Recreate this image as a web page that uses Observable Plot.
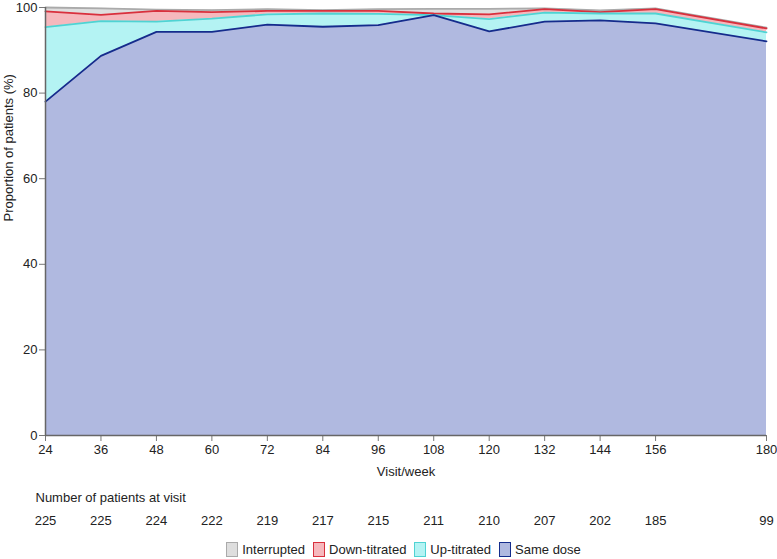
<!DOCTYPE html>
<html>
<head>
<meta charset="utf-8">
<script src="https://cdn.jsdelivr.net/npm/d3@7"></script>
<script src="https://cdn.jsdelivr.net/npm/@observablehq/plot@0.6"></script>
<style>
  html, body { margin: 0; padding: 0; background: #fff; }
  body { width: 777px; height: 559px; position: relative; font-family: "Liberation Sans", Arial, sans-serif; }
  #legend { position: absolute; left: 0; top: 539px; width: 777px; height: 21px; display: flex; justify-content: center; align-items: center; font-size: 13px; color: #222; padding-left: 30px; box-sizing: border-box; }
  .item { display: flex; align-items: center; margin: 0 4px; }
  .sw { width: 12px; height: 15px; border: 1.5px solid; margin-right: 4px; box-sizing: border-box; }
</style>
</head>
<body>
<div id="chart"></div>
<div id="legend"></div>
<script>
const weeks = [24, 36, 48, 60, 72, 84, 96, 108, 120, 132, 144, 156, 180];
const patients = [225, 225, 224, 222, 219, 217, 215, 211, 210, 207, 202, 185, 99];
const sameDose =     [78.0, 88.7, 94.3, 94.3, 96.0, 95.5, 95.9, 98.2, 94.4, 96.7, 97.0, 96.3, 92.1];
const upTitrated =   [17.4, 8.1, 2.4, 3.1, 2.4, 3.1, 2.6, 0.0, 2.9, 2.1, 1.6, 2.3, 2.1];
const downTitrated = [3.7, 1.5, 2.5, 1.5, 0.8, 0.6, 0.7, 0.4, 1.1, 0.8, 0.3, 1.0, 0.9];
const interrupted =  [0.9, 1.5, 0.3, 0.5, 0.4, 0.2, 0.4, 1.1, 1.3, 0.2, 0.4, 0.2, 0.2];
const categories = ["Interrupted", "Down-titrated", "Up-titrated", "Same dose"];
const yTicks = [0, 20, 40, 60, 80, 100];

const series = {"Interrupted": interrupted, "Down-titrated": downTitrated, "Up-titrated": upTitrated, "Same dose": sameDose};
const fillColors = {"Interrupted": "#dedede", "Down-titrated": "#f6b8bd", "Up-titrated": "#b4f3f3", "Same dose": "#b0b9e0"};
const lineColors = {"Interrupted": "#aaaaaa", "Down-titrated": "#d8303d", "Up-titrated": "#4fd3d3", "Same dose": "#142c8c"};
const stackOrder = ["Same dose", "Up-titrated", "Down-titrated", "Interrupted"];

const rows = [];
for (const c of categories) weeks.forEach((w, i) => rows.push({week: w, category: c, value: series[c][i]}));
const counts = weeks.map((w, i) => ({week: w, n: patients[i]}));

const chart = Plot.plot({
  width: 777,
  height: 538,
  marginLeft: 45,
  marginRight: 11,
  marginTop: 7,
  marginBottom: 103,
  style: {fontFamily: "'Liberation Sans', Arial, sans-serif", fontSize: "13px", color: "#222", background: "#fff"},
  x: {domain: [24, 180], ticks: weeks, tickFormat: d => String(d), label: null},
  y: {domain: [0, 100], ticks: yTicks, label: null},
  color: {type: "identity"},
  marks: [
    Plot.areaY(rows, {x: "week", y: "value", z: "category", order: stackOrder, fill: d => fillColors[d.category], curve: "linear"}),
    Plot.lineY(rows, Plot.stackY2({x: "week", y: "value", z: "category", order: stackOrder, stroke: d => lineColors[d.category], strokeWidth: 1.8})),
    Plot.axisX({ticks: weeks, tickFormat: d => String(d), stroke: "#777", tickSize: 6, tickPadding: 3, label: null}),
    Plot.axisY({ticks: yTicks, stroke: "#777", tickSize: 6, tickPadding: 2, label: null}),
    Plot.ruleY([0], {stroke: "#666", strokeWidth: 1.5}),
    Plot.ruleX([24], {stroke: "#666", strokeWidth: 1.5}),
    Plot.text(["Visit/week"], {frameAnchor: "bottom", dy: 40, fill: "#222"}),
    Plot.text(["Number of patients at visit"], {frameAnchor: "bottom-left", dx: -10, dy: 66, textAnchor: "start", fill: "#222"}),
    Plot.text(counts, {x: "week", text: d => String(d.n), frameAnchor: "bottom", dy: 89, fill: "#222"}),
    Plot.text(["Proportion of patients (%)"], {frameAnchor: "left", dx: -37, rotate: -90, fill: "#222"})
  ]
});
document.getElementById("chart").appendChild(chart);

const legend = document.getElementById("legend");
for (const c of categories) {
  const item = document.createElement("div");
  item.className = "item";
  const sw = document.createElement("span");
  sw.className = "sw";
  sw.style.background = fillColors[c];
  sw.style.borderColor = lineColors[c];
  item.appendChild(sw);
  const label = document.createElement("span");
  label.textContent = c;
  item.appendChild(label);
  legend.appendChild(item);
}
</script>
</body>
</html>
